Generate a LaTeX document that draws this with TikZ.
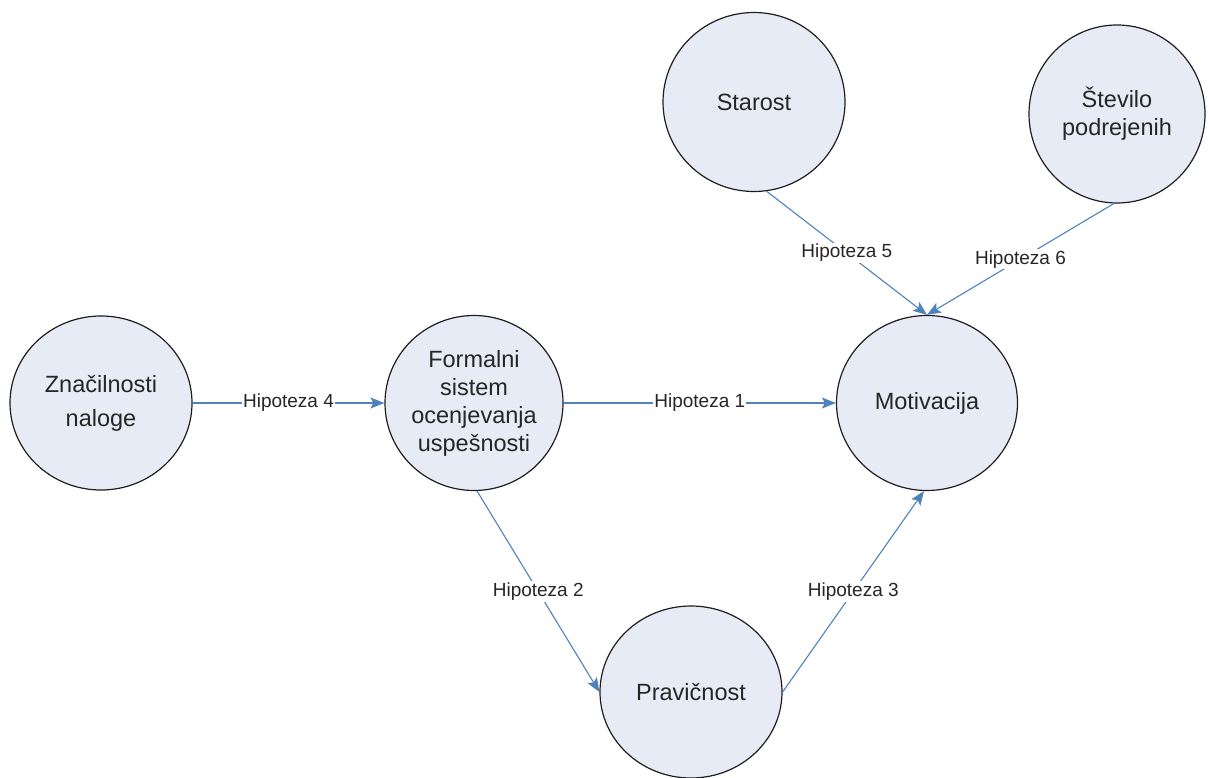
\documentclass[tikz,border=0pt]{standalone}
\usepackage{fontspec}
\setmainfont{Liberation Sans}
\usetikzlibrary{shapes.geometric,arrows.meta}

\definecolor{nodefill}{RGB}{230,235,245}
\definecolor{nodeline}{RGB}{30,30,30}
\definecolor{txt}{RGB}{38,38,38}
\definecolor{arrowblue}{RGB}{79,129,189}

\tikzset{
  factor/.style={ellipse, draw=nodeline, line width=1.2pt, fill=nodefill,
    inner sep=0pt, align=center, text=txt,
    font=\fontsize{23.5}{28}\selectfont},
  hyp/.style={draw=arrowblue, line width=1.1pt,
    -{Stealth[length=14pt,width=11pt,inset=3pt]}},
  hlabel/.style={fill=white, inner sep=1.2pt, text=txt,
    font=\fontsize{19}{22}\selectfont}
}

\begin{document}
\begin{tikzpicture}[x=1pt,y=-1pt]
  \useasboundingbox (0,0) rectangle (1209,778);

  % factors
  \node[factor, minimum width=182pt, minimum height=174pt] (zn) at (101,403)
    {Značilnosti\\[6pt]naloge};
  \node[factor, minimum width=178pt, minimum height=175pt] (fo) at (474,403)
    {Formalni\\sistem\\ocenjevanja\\uspešnosti};
  \node[factor, minimum width=181pt, minimum height=175pt] (mo) at (927,403)
    {Motivacija};
  \node[factor, minimum width=182pt, minimum height=172pt] (pr) at (691,692)
    {Pravičnost};
  \node[factor, minimum width=182pt, minimum height=179pt] (st) at (754,102)
    {Starost};
  \node[factor, minimum width=176pt, minimum height=178pt] (sv) at (1117,114)
    {Število\\podrejenih};

  % hypotheses
  \draw[hyp] (fo.east) -- node[hlabel] {Hipoteza 1} (mo.west);
  \draw[hyp] (fo.-88) -- node[hlabel] {Hipoteza 2} (pr.west);
  \draw[hyp] (pr.east) -- node[hlabel] {Hipoteza 3} (mo.-92);
  \draw[hyp] (zn.east) -- node[hlabel] {Hipoteza 4} (fo.west);
  \draw[hyp] (st.-82) -- node[hlabel] {Hipoteza 5} (mo.north);
  \draw[hyp] (sv.-92) -- node[hlabel] {Hipoteza 6} (mo.north);
\end{tikzpicture}
\end{document}
